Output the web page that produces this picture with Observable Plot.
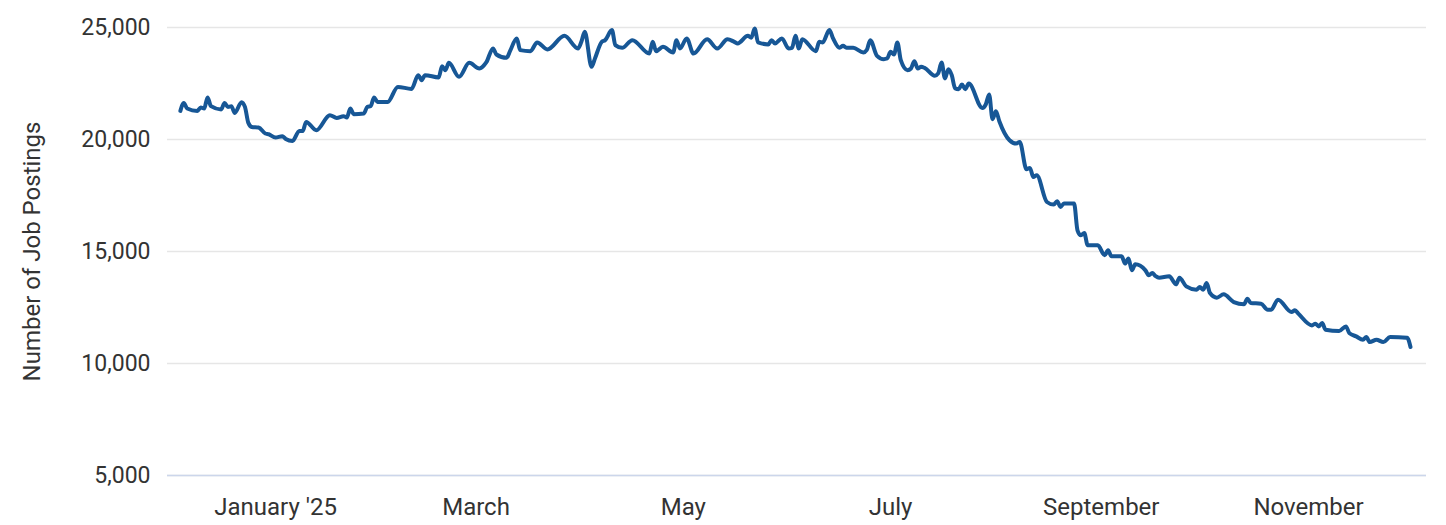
<!DOCTYPE html>
<html><head><meta charset="utf-8">
<script src="https://cdn.jsdelivr.net/npm/d3@7"></script>
<script src="https://cdn.jsdelivr.net/npm/@observablehq/plot@0.6"></script>
<style>html,body{margin:0;padding:0;background:#fff;}</style>
</head><body><div id="chart"></div>
<script>
const dates = [
"2024-12-04","2024-12-05","2024-12-06","2024-12-09","2024-12-10","2024-12-11","2024-12-12","2024-12-13","2024-12-16","2024-12-17",
"2024-12-18","2024-12-19","2024-12-20","2024-12-22","2024-12-23","2024-12-24","2024-12-25","2024-12-27","2024-12-29","2024-12-30",
"2025-01-01","2025-01-03","2025-01-04","2025-01-06","2025-01-08","2025-01-09","2025-01-10","2025-01-13","2025-01-17","2025-01-19",
"2025-01-21","2025-01-22","2025-01-23","2025-01-24","2025-01-27","2025-01-28","2025-01-29","2025-01-30","2025-01-31","2025-02-03",
"2025-02-06","2025-02-10","2025-02-12","2025-02-13","2025-02-14","2025-02-18","2025-02-19","2025-02-20","2025-02-21","2025-02-24",
"2025-02-27","2025-03-02","2025-03-04","2025-03-06","2025-03-07","2025-03-10","2025-03-11","2025-03-13","2025-03-14","2025-03-17",
"2025-03-19","2025-03-22","2025-03-27","2025-03-31","2025-04-01","2025-04-02","2025-04-04","2025-04-05","2025-04-07","2025-04-08",
"2025-04-10","2025-04-11","2025-04-13","2025-04-16","2025-04-21","2025-04-22","2025-04-23","2025-04-25","2025-04-28","2025-04-29",
"2025-04-30","2025-05-02","2025-05-04","2025-05-08","2025-05-11","2025-05-14","2025-05-16","2025-05-17","2025-05-20","2025-05-21",
"2025-05-22","2025-05-23","2025-05-26","2025-05-27","2025-05-28","2025-05-30","2025-06-01","2025-06-02","2025-06-03","2025-06-04",
"2025-06-05","2025-06-09","2025-06-10","2025-06-11","2025-06-13","2025-06-14","2025-06-16","2025-06-17","2025-06-18","2025-06-20",
"2025-06-23","2025-06-24","2025-06-25","2025-06-27","2025-06-29","2025-06-30","2025-07-01","2025-07-02","2025-07-03","2025-07-04",
"2025-07-06","2025-07-07","2025-07-08","2025-07-09","2025-07-10","2025-07-11","2025-07-14","2025-07-15","2025-07-16","2025-07-17",
"2025-07-18","2025-07-19","2025-07-20","2025-07-21","2025-07-22","2025-07-23","2025-07-24","2025-07-28","2025-07-29","2025-07-30",
"2025-07-31","2025-08-01","2025-08-02","2025-08-05","2025-08-07","2025-08-08","2025-08-10","2025-08-11","2025-08-12","2025-08-13",
"2025-08-16","2025-08-18","2025-08-19","2025-08-20","2025-08-21","2025-08-24","2025-08-25","2025-08-26","2025-08-27","2025-08-28",
"2025-08-31","2025-09-02","2025-09-03","2025-09-04","2025-09-07","2025-09-08","2025-09-09","2025-09-10","2025-09-11","2025-09-14",
"2025-09-15","2025-09-16","2025-09-17","2025-09-18","2025-09-21","2025-09-23","2025-09-24","2025-09-26","2025-09-29","2025-09-30",
"2025-10-01","2025-10-02","2025-10-03","2025-10-05","2025-10-07","2025-10-10","2025-10-13","2025-10-14","2025-10-15","2025-10-18",
"2025-10-20","2025-10-21","2025-10-23","2025-10-27","2025-10-28","2025-10-29","2025-11-02","2025-11-03","2025-11-04","2025-11-05",
"2025-11-06","2025-11-10","2025-11-12","2025-11-13","2025-11-15","2025-11-17","2025-11-18","2025-11-19","2025-11-21","2025-11-23",
"2025-11-25","2025-11-30","2025-12-01"
];
const postings = [
21277,21634,21384,21277,21429,21384,21876,21487,21340,21634,
21456,21487,21188,21665,21456,20741,20562,20535,20267,20236,
20088,20146,20026,19937,20383,20383,20785,20415,21085,20964,
21040,20982,21384,21130,21161,21456,21487,21876,21679,21679,
22349,22260,22872,22649,22872,22770,23274,23095,23421,22796,
23421,23171,23439,24064,23796,23645,23944,24511,23989,23944,
24333,24020,24628,24064,24360,24807,23243,23617,24360,24436,
24883,24213,24092,24436,23840,24360,23944,24137,23886,24436,
24064,24511,23840,24480,24064,24480,24360,24289,24628,24539,
24958,24333,24244,24436,24289,24511,24064,24092,24628,24064,
24480,23944,24360,24333,24883,24539,24092,24181,24092,24092,
23886,24000,24436,23735,23587,23617,23912,23796,24333,23542,
23095,23171,23497,23171,23243,23198,22841,22948,23439,22725,
23140,22872,22278,22247,22457,22247,22501,21411,21563,22009,
20906,21264,20817,19968,19820,19892,18672,18730,18328,18404,
17211,17095,17242,16989,17140,17140,15947,15723,15826,15276,
15276,14830,15053,14785,14785,14459,14682,14159,14428,14159,
13936,14039,13900,13833,13891,13534,13833,13444,13297,13413,
13297,13592,13145,12940,13087,12743,12640,12895,12698,12671,
12404,12404,12850,12296,12372,12225,11702,11778,11657,11805,
11510,11447,11657,11358,11211,11063,11180,10956,11063,10956,
11180,11150,10733
];
const yTicks = [5000, 10000, 15000, 20000, 25000];
const xTickDates = ["2025-01-01","2025-03-01","2025-05-01","2025-07-01","2025-09-01","2025-11-01"];
const xTickLabels = ["January '25","March","May","July","September","November"];
const yTitle = "Number of Job Postings";

const data = dates.map((d, i) => ({date: new Date(d + "T00:00:00Z"), value: postings[i]}));
const xTicks = xTickDates.map(d => new Date(d + "T00:00:00Z"));
const labelOf = new Map(xTicks.map((d, i) => [+d, xTickLabels[i]]));

const chart = Plot.plot({
  width: 1446,
  height: 525,
  marginLeft: 167,
  marginRight: 20,
  marginTop: 27,
  marginBottom: 50,
  style: {fontFamily: "Roboto, sans-serif", fontSize: "23px", color: "#333", background: "#fff"},
  x: {type: "utc", domain: [new Date("2024-11-30T05:00:00Z"), new Date("2025-12-05T17:00:00Z")]},
  y: {domain: [5000, 25000]},
  marks: [
    Plot.gridY(yTicks, {stroke: "#e6e6e6", strokeOpacity: 1, strokeWidth: 1.3}),
    Plot.ruleY([5000], {stroke: "#ccd6eb", strokeWidth: 1.5}),
    Plot.axisY(yTicks, {tickSize: 0, tickPadding: 17, tickFormat: d3.format(","), label: null}),
    Plot.axisY({tickSize: 0, ticks: [], label: yTitle, labelAnchor: "center", labelArrow: "none", labelOffset: 145, fontSize: 24}),
    Plot.axisX(xTicks, {tickSize: 0, tickPadding: 22, tickFormat: d => labelOf.get(+d), label: null, fontSize: 24}),
    Plot.line(data, {x: "date", y: "value", stroke: "#175796", strokeWidth: 4, curve: "monotone-x"})
  ]
});
document.getElementById("chart").appendChild(chart);
</script>
</body></html>
